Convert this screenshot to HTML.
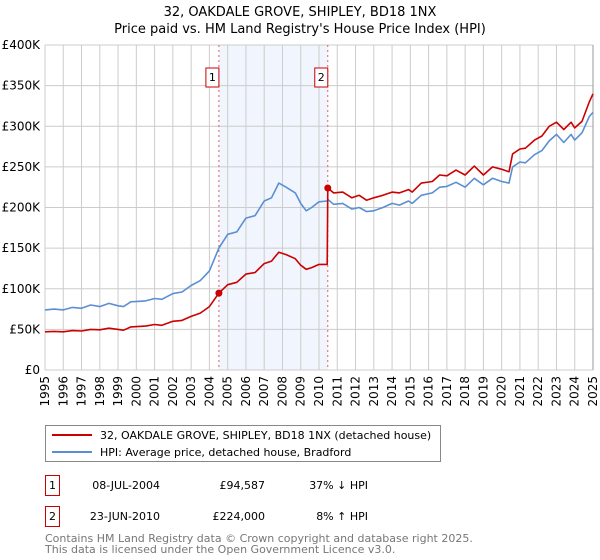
<!DOCTYPE html>
<html><head><meta charset="utf-8"><style>
body{margin:0;background:#fff;font-family:"DejaVu Sans","Liberation Sans",sans-serif;}
#wrap{position:relative;width:600px;height:560px;overflow:hidden;}
svg{position:absolute;left:0;top:0;font-family:"DejaVu Sans","Liberation Sans",sans-serif;}
</style></head><body>
<div id="wrap">
<svg id="chart" width="600" height="560"></svg>
</div>
<script>
const years=[1995.0,1995.5,1996.0,1996.5,1997.0,1997.5,1998.0,1998.5,1999.0,1999.3,1999.7,2000.5,2001.0,2001.4,2002.0,2002.5,2003.0,2003.5,2004.0,2004.52,2005.0,2005.5,2006.0,2006.5,2007.0,2007.4,2007.8,2008.2,2008.7,2009.0,2009.3,2009.6,2010.0,2010.45,2010.48,2010.8,2011.3,2011.8,2012.2,2012.6,2013.0,2013.5,2014.0,2014.4,2014.9,2015.1,2015.6,2016.2,2016.6,2017.0,2017.5,2018.0,2018.5,2019.0,2019.5,2020.0,2020.4,2020.6,2021.0,2021.3,2021.8,2022.2,2022.6,2023.0,2023.4,2023.8,2024.0,2024.4,2024.8,2025.0];
const hpiValues=[74,75,74,77,76,80,78,82,79,78,84,85,88,87,94,96,104,110,122,150,167,170,187,190,208,212,230,225,218,205,196,200,207,208,210,204,205,198,200,195,196,200,205,203,208,205,215,218,225,226,231,225,236,228,236,232,230,250,256,255,265,270,282,290,280,290,283,292,312,317];
const propValues=[47,47.5,47,48.5,48,50,49.5,51.5,50,49,53,54,56,55,60,61,66,70,78,94.6,105,108,118,120,131,134,145,142,137,129,124,126,130,130,224,218,219,212,215,209,212,215,219,218,222,219,230,232,240,239,246,240,251,240,250,247,244,266,272,273,283,288,300,305,296,305,298,306,330,340];
const saleYears=[2004.52,2010.48];
const salePrices=[94.587,224];
const saleLabels=["1","2"];
const yTicks=[0,50,100,150,200,250,300,350,400];
const yTickLabels=["£0","£50K","£100K","£150K","£200K","£250K","£300K","£350K","£400K"];
const xTicks=[];for(let y=1995;y<=2025;y++)xTicks.push(y);

const X0=45,X1=593,Y0=370,Y1=45;
const xs=v=>X0+(v-1995)/30*(X1-X0);
const ys=v=>Y0-v/400*(Y0-Y1);
const NS="http://www.w3.org/2000/svg";
const svg=document.getElementById('chart');
function mk(tag,attrs,parent){const e=document.createElementNS(NS,tag);for(const k in attrs)e.setAttribute(k,attrs[k]);(parent||svg).appendChild(e);return e;}

const sh=mk('rect',{x:xs(saleYears[0]),y:Y1,width:xs(saleYears[1])-xs(saleYears[0]),height:Y0-Y1,fill:'#eef3fc',opacity:0.8});



xTicks.forEach(t=>{const l=mk('line',{x1:xs(t),x2:xs(t),y1:Y1,y2:Y0,stroke:'#cccccc','stroke-width':1});


const tx=mk('text',{x:0,y:0,transform:`translate(${xs(t)+4},${Y0+6}) rotate(-90)`,'text-anchor':'end','font-size':12,fill:'#000'});tx.textContent=t;

});
yTicks.forEach((t,i)=>{const l=mk('line',{x1:X0,x2:X1,y1:ys(t),y2:ys(t),stroke:'#cccccc','stroke-width':1});


const tx=mk('text',{x:40,y:ys(t)+4,'text-anchor':'end','font-size':12,fill:'#000'});tx.textContent=yTickLabels[i];

});
const rb=mk('line',{x1:X1,x2:X1,y1:Y1,y2:Y0,stroke:'#999','stroke-width':1});



saleYears.forEach((s,i)=>{const l=mk('line',{x1:xs(s),x2:xs(s),y1:Y1,y2:Y0,stroke:'#e06060','stroke-width':1,'stroke-dasharray':'2,3'});


const bx=mk('rect',{x:xs(s)-13,y:68,width:13,height:19,fill:'#fff',stroke:'#cc0000','stroke-width':1});


const t=mk('text',{x:xs(s)-6.5,y:81,'text-anchor':'middle','font-size':11});t.textContent=saleLabels[i];

});

function line(vals,color,name){const d=years.map((y,i)=>(i?'L':'M')+xs(y).toFixed(1)+','+ys(vals[i]).toFixed(1)).join('');
const p=mk('path',{d:d,fill:'none',stroke:color,'stroke-width':1.6,'stroke-linejoin':'round'});

}
line(hpiValues,'#5b8fd4','hpi-line');
line(propValues,'#cc0000','property-price-line');
saleYears.forEach((s,i)=>{const c=mk('circle',{cx:xs(s),cy:ys(salePrices[i]),r:3.5,fill:'#cc0000'});

});
</script>
<svg width="600" height="560" style="position:absolute;left:0;top:0;pointer-events:none">
<text x="300" y="16" text-anchor="middle" font-size="13">32, OAKDALE GROVE, SHIPLEY, BD18 1NX</text>
<text x="300" y="33" text-anchor="middle" font-size="13">Price paid vs. HM Land Registry's House Price Index (HPI)</text>
<rect x="45.5" y="425.5" width="395" height="36" fill="#fff" stroke="#888"/>
<line x1="52" x2="92" y1="435" y2="435" stroke="#cc0000" stroke-width="2"/>
<text x="100" y="439" font-size="11">32, OAKDALE GROVE, SHIPLEY, BD18 1NX (detached house)</text>
<line x1="52" x2="92" y1="452" y2="452" stroke="#5b8fd4" stroke-width="2"/>
<text x="100" y="456" font-size="11">HPI: Average price, detached house, Bradford</text>
<rect x="45.5" y="475.5" width="14" height="20" fill="#fff" stroke="#cc0000"/>
<text x="52.5" y="489" text-anchor="middle" font-size="11">1</text>
<text x="160" y="489" text-anchor="end" font-size="11">08-JUL-2004</text>
<text x="265" y="489" text-anchor="end" font-size="11">£94,587</text>
<text x="368" y="489" text-anchor="end" font-size="11">37% ↓ HPI</text>
<rect x="45.5" y="506.5" width="14" height="20" fill="#fff" stroke="#cc0000"/>
<text x="52.5" y="520" text-anchor="middle" font-size="11">2</text>
<text x="160" y="520" text-anchor="end" font-size="11">23-JUN-2010</text>
<text x="265" y="520" text-anchor="end" font-size="11">£224,000</text>
<text x="368" y="520" text-anchor="end" font-size="11">8% ↑ HPI</text>
<text x="45" y="542" font-size="11" fill="#777">Contains HM Land Registry data © Crown copyright and database right 2025.</text>
<text x="45" y="553" font-size="11" fill="#777">This data is licensed under the Open Government Licence v3.0.</text>
</svg>
</body></html>
